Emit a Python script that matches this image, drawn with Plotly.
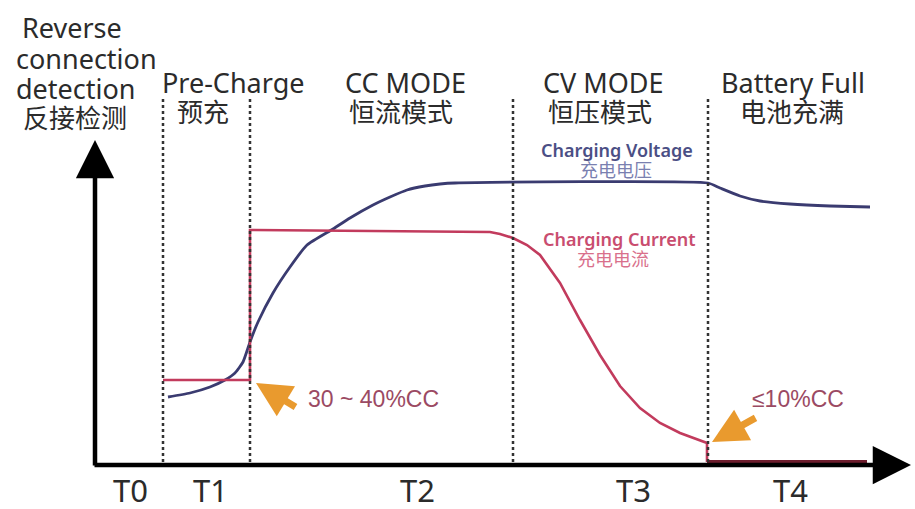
import plotly.graph_objects as go

# ---- data (x: time axis units, y: level, screen-down units) ----
volt_t = [168, 190, 210, 225, 235, 243, 250, 258, 273, 290, 307, 333, 350, 373, 390, 407, 425, 440, 455, 708, 720, 740, 760, 790, 830, 870]
volt_v = [397, 393, 387, 380, 373, 362, 342, 322, 293, 267, 245, 229, 218, 205, 197, 190, 186, 184, 183, 183, 188, 196, 201, 204, 206, 207]

curr_t = [163, 250, 250, 400, 490, 500, 513, 527, 540, 560, 580, 600, 620, 640, 660, 680, 707, 707]
curr_v = [380, 380, 230, 231, 232, 234, 238, 245, 255, 283, 320, 355, 386, 408, 423, 433, 443, 462]

tail_t = [707, 867]
tail_v = [462, 462]

phase_bounds = [163, 250, 513, 708]
phase_labels = ["T0", "T1", "T2", "T3", "T4"]
phase_label_x = [130, 210, 417, 633, 790]

mode_en = ["Pre-Charge", "CC MODE", "CV MODE", "Battery Full"]
mode_zh = ["预充", "恒流模式", "恒压模式", "电池充满"]
mode_en_x = [233, 405, 603, 793]
mode_zh_x = [203, 401, 600, 792]

FONT = "Noto Sans, Noto Sans CJK SC, sans-serif"
ARIAL = "Liberation Sans, Arial, sans-serif"
TXT = "#2b2b2b"
NAVY = "#3a3b70"
RED = "#c23b5d"
ORANGE = "#e99a2e"

fig = go.Figure()

fig.add_trace(go.Scatter(x=volt_t, y=volt_v, mode="lines",
                         line=dict(color=NAVY, width=2.8, shape="spline", smoothing=0.5), hoverinfo="skip"))
fig.add_trace(go.Scatter(x=curr_t, y=curr_v, mode="lines",
                         line=dict(color=RED, width=2.6, shape="linear"), hoverinfo="skip"))
fig.add_trace(go.Scatter(x=tail_t, y=tail_v, mode="lines",
                         line=dict(color="#6d1d2d", width=4), hoverinfo="skip"))

shapes = []
for b in phase_bounds:
    shapes.append(dict(type="line", xref="x", yref="y", x0=b, x1=b, y0=99, y1=465,
                       line=dict(color="#333", width=2.5, dash="dot")))
fig.update_layout(shapes=shapes)

ann = []
# axes with arrowheads
ann.append(dict(x=95, y=140, ax=95, ay=467, xref="x", yref="y", axref="x", ayref="y",
                showarrow=True, arrowhead=2, arrowsize=1.7, arrowwidth=4.5, arrowcolor="#000", text=""))
ann.append(dict(x=911, y=465, ax=93, ay=465, xref="x", yref="y", axref="x", ayref="y",
                showarrow=True, arrowhead=2, arrowsize=1.7, arrowwidth=4.5, arrowcolor="#000", text=""))
# orange pointers
ann.append(dict(x=256, y=383, ax=297, ay=408, xref="x", yref="y", axref="x", ayref="y",
                showarrow=True, arrowhead=2, arrowsize=1.0, arrowwidth=7, arrowcolor=ORANGE, text=""))
ann.append(dict(x=712, y=442, ax=757, ay=417, xref="x", yref="y", axref="x", ayref="y",
                showarrow=True, arrowhead=2, arrowsize=1.0, arrowwidth=7, arrowcolor=ORANGE, text=""))


def txt(x, y, s, size, color=TXT, family=FONT, weight=None):
    f = dict(family=family, size=size, color=color)
    if weight:
        f["weight"] = weight
    ann.append(dict(x=x, y=y, xref="x", yref="y", text=s, showarrow=False,
                    font=f, xanchor="center", yanchor="middle"))


txt(72, 27, "Reverse", 27)
txt(86, 58, "connection", 27)
txt(76, 88, "detection", 27)
txt(75, 118, "反接检测", 26)
for x, s in zip(mode_en_x, mode_en):
    txt(x, 82, s, 27)
for x, s in zip(mode_zh_x, mode_zh):
    txt(x, 112, s, 26)
for x, s in zip(phase_label_x, phase_labels):
    txt(x, 490, s, 31)

txt(617, 150, "Charging Voltage", 18, "#4b4f85", weight=600)
txt(616, 170, "充电电压", 18, "#7a80b0")
txt(619, 239, "Charging Current", 18, "#c94d6f", weight=600)
txt(613, 259, "充电电流", 18, "#d9708c")
txt(373, 399, "30 ~ 40%CC", 23, "#9b4a63", family=ARIAL)
txt(798, 399, "≤10%CC", 23, "#9b4a63", family=ARIAL)

fig.update_layout(annotations=ann)

fig.update_layout(
    width=915, height=509,
    margin=dict(l=0, r=0, t=0, b=0),
    paper_bgcolor="white", plot_bgcolor="white",
    showlegend=False,
    xaxis=dict(range=[0, 915], visible=False, fixedrange=True),
    yaxis=dict(range=[509, 0], visible=False, fixedrange=True),
)

fig.write_html("out.html", config={"displayModeBar": False},
               post_script="document.body.style.margin='0';document.body.style.overflow='hidden';")
